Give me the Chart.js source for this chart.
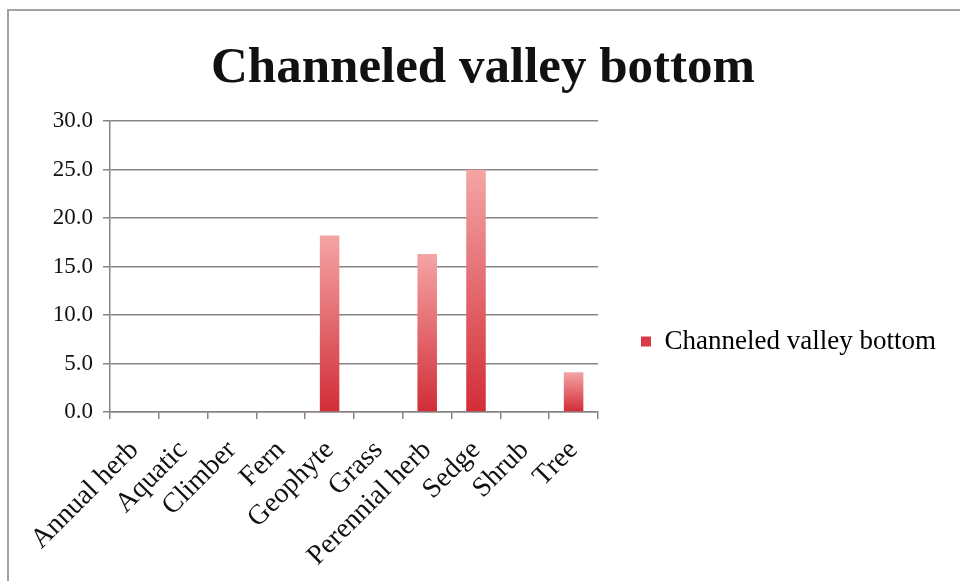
<!DOCTYPE html>
<html>
<head>
<meta charset="utf-8">
<script src="https://cdn.jsdelivr.net/npm/chart.js@4"></script>
<style>
  html, body { margin: 0; padding: 0; background: #fff; overflow: hidden; }
  #wrap { position: relative; width: 960px; height: 581px; }
  #frame { position: absolute; left: 7px; top: 9px; width: 970px; height: 600px;
           border-left: 2px solid #a3a3a3; border-top: 2px solid #a3a3a3; }
  canvas { position: absolute; left: 0; top: 0; }
</style>
</head>
<body>
<div id="wrap">
  <div id="frame"></div>
  <canvas id="chart" width="960" height="581"></canvas>
</div>
<script>
const categories = ['Annual herb', 'Aquatic', 'Climber', 'Fern', 'Geophyte', 'Grass', 'Perennial herb', 'Sedge', 'Shrub', 'Tree'];
const values = [0, 0, 0, 0, 18.2, 0, 16.3, 25.0, 0, 4.1];
const seriesName = 'Channeled valley bottom';
const chartTitle = 'Channeled valley bottom';
const yTicks = [0, 5, 10, 15, 20, 25, 30];

const serif = "'Liberation Serif', 'DejaVu Serif', serif";
const axisGray = '#8a8383';
const legendWidth = 348; // space kept right of the plot
const legendDrop = 51;   // legend sits lower than centre of the plot

// vertical gradient per bar, light top -> dark bottom
const barGradient = {
  id: 'barGradient',
  beforeDatasetsDraw(chart) {
    const ctx = chart.ctx;
    chart.getDatasetMeta(0).data.forEach(bar => {
      const top = Math.min(bar.y, bar.base) - 0.01;
      const g = ctx.createLinearGradient(0, top, 0, Math.max(bar.y, bar.base));
      g.addColorStop(0, '#f4a5a5');
      g.addColorStop(1, '#d22d37');
      bar.options = Object.assign({}, bar.options, { backgroundColor: g });
    });
  }
};

// the layout caps side boxes at a quarter of the width; give the legend its room
const wideLegend = {
  id: 'wideLegend',
  beforeLayout(chart) {
    const lg = chart.legend;
    if (!lg || lg._wide) return;
    const fit = lg.fit;
    lg.fit = function () {
      fit.call(this);
      this.width = legendWidth;
    };
    lg._wide = true;
  },
  afterLayout(chart) {
    const lg = chart.legend;
    if (!lg) return;
    lg.top += legendDrop;
    lg.bottom += legendDrop;
  }
};

new Chart(document.getElementById('chart'), {
  type: 'bar',
  data: {
    labels: categories,
    datasets: [{
      label: seriesName,
      data: values,
      backgroundColor: '#dc4450',
      borderWidth: 0,
      barPercentage: 0.8,
      categoryPercentage: 0.5
    }]
  },
  plugins: [barGradient, wideLegend],
  options: {
    responsive: false,
    animation: false,
    layout: { padding: { left: 20, right: 14, top: 0, bottom: 0 } },
    plugins: {
      title: {
        display: true,
        text: chartTitle,
        color: '#111',
        font: { family: serif, size: 51, weight: 'bold' },
        padding: { top: 38, bottom: 22 }
      },
      legend: {
        position: 'right',
        labels: {
          color: '#111',
          font: { family: serif, size: 27 },
          boxWidth: 10,
          boxHeight: 10,
          padding: 43,
          generateLabels: chart => [{
            text: seriesName,
            fillStyle: '#d83c48',
            strokeStyle: '#d83c48',
            lineWidth: 0,
            datasetIndex: 0
          }]
        }
      },
      tooltip: { enabled: false }
    },
    scales: {
      x: {
        afterFit: s => { s.height = 169; },
        border: { color: axisGray, width: 1.5 },
        grid: { offset: true, drawOnChartArea: false, drawTicks: true, tickLength: 7, color: axisGray, lineWidth: 1.5 },
        ticks: {
          color: '#111',
          font: { family: serif, size: 28 },
          maxRotation: 45,
          minRotation: 45,
          autoSkip: false,
          padding: 15
        }
      },
      y: {
        min: 0,
        max: 30,
        afterFit: s => { s.width = 90; },
        afterBuildTicks: s => { s.ticks = yTicks.map(v => ({ value: v })); },
        border: { color: axisGray, width: 1.5 },
        grid: { color: axisGray, lineWidth: 1.5, tickLength: 7 },
        ticks: {
          color: '#111',
          font: { family: serif, size: 23 },
          padding: 10,
          callback: v => v.toFixed(1)
        }
      }
    }
  }
});
</script>
</body>
</html>
